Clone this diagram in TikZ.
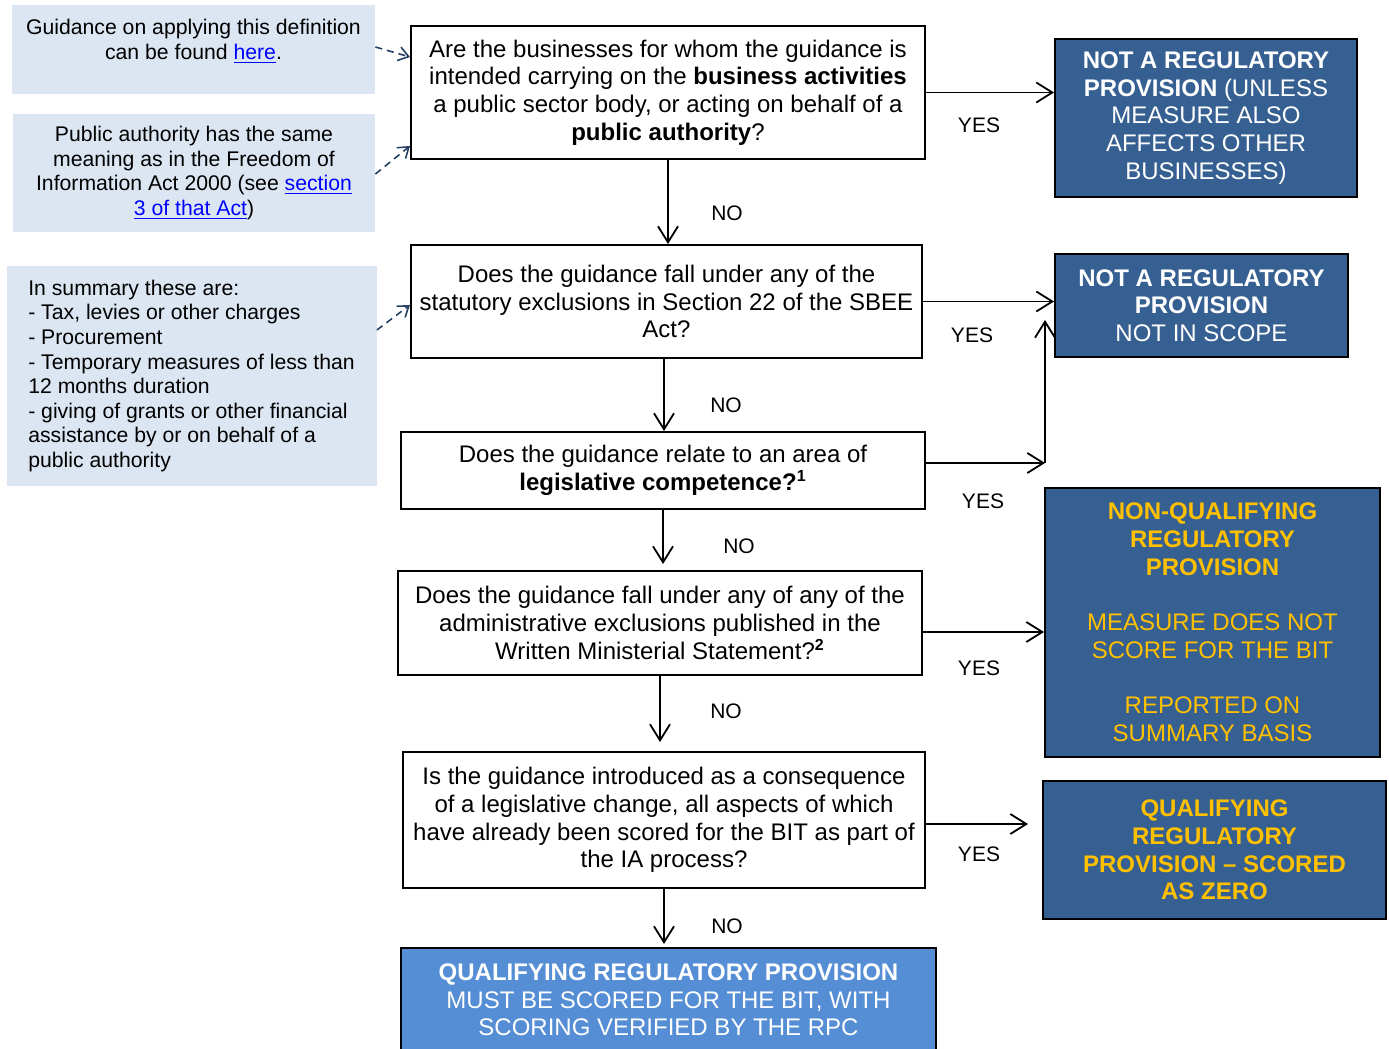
\documentclass[tikz,border=0pt]{standalone}
\usepackage{fontspec}
\setmainfont{Liberation Sans}
\usetikzlibrary{arrows.meta}
\definecolor{noteblue}{HTML}{DCE6F2}
\definecolor{navybox}{HTML}{376092}
\definecolor{lightbox}{HTML}{558ED5}
\definecolor{gold}{HTML}{FFC000}
\definecolor{hintline}{HTML}{254061}
\definecolor{linkblue}{HTML}{0000FF}
\newcommand{\weblink}[1]{\textcolor{linkblue}{\underline{#1}}}
\newcommand{\qsize}{\fontsize{12pt}{13.8pt}\selectfont}
\newcommand{\nsize}{\fontsize{10.6pt}{12.3pt}\selectfont}
\newcommand{\asize}{\fontsize{10.5pt}{12pt}\selectfont}
\tikzset{
  question/.style={draw, line width=1pt, align=center, inner sep=0pt, font=\qsize},
  outcome/.style={draw, line width=1pt, fill=navybox, text=white, align=center, inner sep=0pt, font=\qsize},
  note/.style={fill=noteblue, inner sep=0pt, align=center, font=\nsize},
  answer/.style={inner sep=0pt, font=\asize},
  flow/.style={line width=0.9pt, -{Straight Barb[length=8pt,width=10pt]}},
  hint/.style={hintline, line width=0.8pt, dash pattern=on 3.5pt off 2.5pt, -{Straight Barb[length=5pt,width=7pt]}}
}

\begin{document}
\begin{tikzpicture}[x=0.5pt,y=-0.5pt]
\useasboundingbox (0,0) rectangle (1389,1049);
% side notes
\node[note, minimum width=181.5pt, minimum height=44.5pt] (def) at (193.5,49.5)
  {Guidance on applying this definition\\can be found \weblink{here}.\\[-6pt]\strut};
\node[note, minimum width=181pt, minimum height=59pt] (pubauth) at (194,173)
  {Public authority has the same\\meaning as in the Freedom of\\Information Act 2000 (see \weblink{section}\\\weblink{3 of that Act})};
\node[note, align=left, minimum width=185pt, minimum height=110pt] (summary) at (191.5,376)
  {In summary these are:\\- Tax, levies or other charges\\- Procurement\\- Temporary measures of less than\\12 months duration\\- giving of grants or other financial\\assistance by or on behalf of a\\public authority};

% questions
\node[question, minimum width=257pt, minimum height=66.5pt] (q1) at (668,92.5)
  {Are the businesses for whom the guidance is\\intended carrying on the \textbf{business activities}\\a public sector body, or acting on behalf of a\\\textbf{public authority}?};
\node[question, minimum width=255.5pt, minimum height=56.5pt] (q2) at (666.5,301.5)
  {Does the guidance fall under any of the\\statutory exclusions in Section 22 of the SBEE\\Act?};
\node[question, minimum width=262pt, minimum height=38.5pt] (q3) at (663,470.5)
  {Does the guidance relate to an area of\\\textbf{legislative competence?\textsuperscript{1}}};
\node[question, minimum width=262pt, minimum height=52pt] (q4) at (660,623)
  {Does the guidance fall under any of any of the\\administrative exclusions published in the\\Written Ministerial Statement?\textsuperscript{\textbf{2}}};
\node[question, minimum width=261pt, minimum height=68pt] (q5) at (664,820)
  {Is the guidance introduced as a consequence\\of a legislative change, all aspects of which\\have already been scored for the BIT as part of\\the IA process?};
\node[outcome, fill=lightbox, minimum width=267.5pt, minimum height=52pt] (fin) at (668.5,1000)
  {\textbf{QUALIFYING REGULATORY PROVISION}\\MUST BE SCORED FOR THE BIT, WITH\\SCORING VERIFIED BY THE RPC};

% outcomes
\node[outcome, minimum width=151pt, minimum height=79pt] (r1) at (1206,118)
  {\textbf{NOT A REGULATORY}\\\textbf{PROVISION} (UNLESS\\MEASURE ALSO\\AFFECTS OTHER\\BUSINESSES)};
\node[outcome, minimum width=146.5pt, minimum height=51.5pt] (r2) at (1201.5,305.5)
  {\textbf{NOT A REGULATORY}\\\textbf{PROVISION}\\NOT IN SCOPE};
\node[outcome, text=gold, minimum width=167.5pt, minimum height=134.5pt] (r3) at (1212.5,622.5)
  {\textbf{NON-QUALIFYING}\\\textbf{REGULATORY}\\\textbf{PROVISION}\\[14pt]MEASURE DOES NOT\\SCORE FOR THE BIT\\[14pt]REPORTED ON\\SUMMARY BASIS};
\node[outcome, text=gold, minimum width=171.5pt, minimum height=69pt] (r4) at (1214.5,850)
  {\textbf{QUALIFYING}\\\textbf{REGULATORY}\\\textbf{PROVISION -- SCORED}\\\textbf{AS ZERO}};

% yes / no
\node[answer] (yes1) at (979,125) {YES};
\node[answer] (no1) at (727,213) {NO};
\node[answer] (yes2) at (972,335) {YES};
\node[answer] (no2) at (726,405) {NO};
\node[answer] (yes3) at (983,501) {YES};
\node[answer] (no3) at (739,546) {NO};
\node[answer] (yes4) at (979,668) {YES};
\node[answer] (no4) at (726,711) {NO};
\node[answer] (yes5) at (979,854) {YES};
\node[answer] (no5) at (727,926) {NO};

\coordinate (jn) at (1045,463);
\coordinate (jtop) at (1045,320);
\coordinate (y4) at (1045,632);
\coordinate (y5) at (1028,824);

\draw[flow] (q1.east) -- (r1.west |- q1.east);
\draw[flow] (q2.east) -- (r2.west |- q2.east);
\draw[flow] (q3.east |- jn) -- (jn);
\draw[flow] (jn) -- (jtop);
\draw[flow] (q4.east |- y4) -- (r3.west |- y4);
\draw[flow] (q5.east |- y5) -- (y5);

\draw[flow] (q1.south) -- (q1.south |- q2.north);
\draw[flow] ([xshift=-1.25pt]q2.south) -- ([xshift=-1.25pt]q2.south |- q3.north);
\draw[flow, shorten >=3pt] (q3.south) -- (q3.south |- q4.north);
\draw[flow, shorten >=4.5pt] (q4.south) -- (q4.south |- q5.north);
\draw[flow, shorten >=1.5pt] (q5.south) -- (q5.south |- fin.north);

% dashed pointers
\draw[hint] ([yshift=1.25pt]def.east) -- ([yshift=17.75pt]q1.west);
\draw[hint] ([yshift=-0.5pt]pubauth.east) -- ([yshift=-26.75pt]q1.west);
\draw[hint] ([yshift=23pt]summary.east) -- ([yshift=-1.75pt]q2.west);
\end{tikzpicture}
\end{document}
